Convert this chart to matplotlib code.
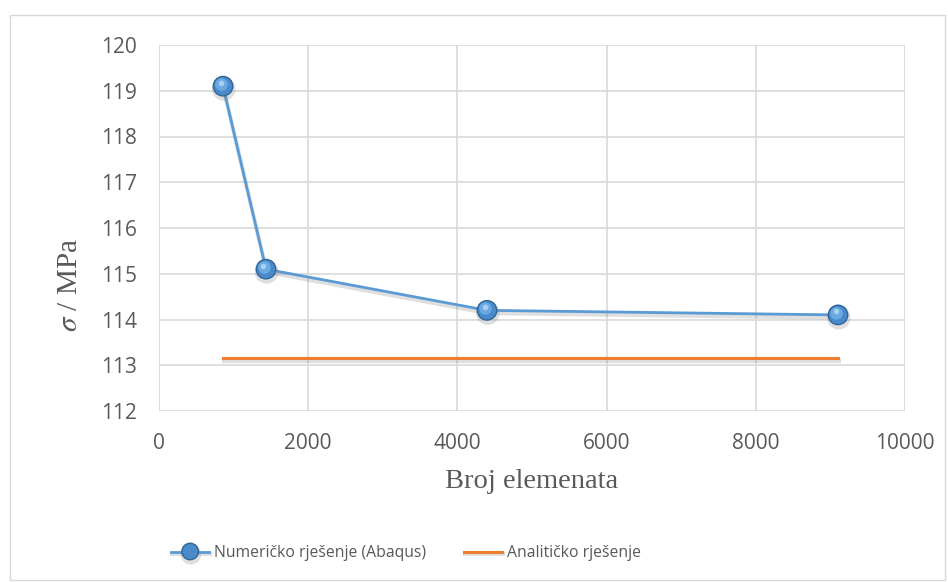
import matplotlib
matplotlib.use("Agg")
from matplotlib import pyplot as plt
from matplotlib import patheffects as pe
from matplotlib import transforms
from matplotlib.patches import Rectangle

# data
broj_elemenata = [858, 1434, 4397, 9102]
sigma_abaqus = [119.1, 115.1, 114.2, 114.1]
sigma_analiticko = 113.16
x_ticks = [0, 2000, 4000, 6000, 8000, 10000]
y_ticks = [112, 113, 114, 115, 116, 117, 118, 119, 120]

blue = "#5B9BD5"
orange = "#ED7D31"
grid = "#D9D9D9"
txt = "#595959"
plt.rcParams["mathtext.fontset"] = "stix"

fig = plt.figure(figsize=(9.48, 5.82), dpi=100)
fig.patches.append(Rectangle((10 / 948, 2 / 582), 935 / 948, 565 / 582, transform=fig.transFigure,
                             fill=False, edgecolor="#D9D9D9", linewidth=1.0))
ax = fig.add_axes([159 / 948, 1 - 411 / 582, 746 / 948, 366 / 582])

shadow = [pe.SimpleLineShadow(offset=(0.5, -2), shadow_color="gray", alpha=0.25, linewidth=3), pe.Normal()]

ax.plot([broj_elemenata[0], broj_elemenata[-1]], [sigma_analiticko, sigma_analiticko],
        color=orange, linewidth=2.2, path_effects=shadow, label="Analitičko rješenje", zorder=3)
ax.plot(broj_elemenata, sigma_abaqus, color=blue, linewidth=2.0, marker="o", markersize=14,
        markerfacecolor="#4A8ACB", markeredgecolor="#2F6699", markeredgewidth=1.0,
        path_effects=shadow, label="Numeričko rješenje (Abaqus)", zorder=4)
# highlight on the spheres, shifted up-left
hl = transforms.offset_copy(ax.transData, fig=fig, x=-1.2, y=1.5, units="points")
ax.plot(broj_elemenata, sigma_abaqus, linestyle="none", marker="o", markersize=9,
        markerfacecolor="#6AAAE4", markeredgecolor="none", transform=hl, zorder=5)
hl2 = transforms.offset_copy(ax.transData, fig=fig, x=-1.8, y=2.6, units="points")
ax.plot(broj_elemenata, sigma_abaqus, linestyle="none", marker="o", markersize=4,
        markerfacecolor="#A9D0F2", markeredgecolor="none", transform=hl2, zorder=6)

ax.set_xlim(0, 10000)
ax.set_ylim(112, 120)
ax.set_xticks(x_ticks)
ax.set_yticks(y_ticks)
ax.grid(True, color=grid, linewidth=1.2)
ax.set_axisbelow(True)
for s in ax.spines.values():
    s.set_visible(False)
ax.tick_params(length=0, labelsize=15, labelcolor=txt, pad=16)
for lab in ax.get_xticklabels() + ax.get_yticklabels():
    lab.set_fontfamily("Open Sans")

ax.set_xlabel("Broj elemenata", fontsize=20.5, fontfamily="Liberation Serif", color=txt)
ax.xaxis.set_label_coords(0.5, -0.158)
ax.set_ylabel(r"$\sigma$ / MPa", fontsize=21, fontfamily="Liberation Serif", color=txt)
ax.yaxis.set_label_coords(-0.102, 0.344)

h, l = ax.get_legend_handles_labels()
leg = fig.legend(h[::-1], l[::-1], loc="center", bbox_to_anchor=(406 / 948, 1 - 553 / 582), ncol=2,
                 frameon=False, prop={"family": "Open Sans", "size": 11.3}, handlelength=2.45,
                 handletextpad=0.3, columnspacing=2.4, markerscale=0.85)
for t in leg.get_texts():
    t.set_color(txt)

fig.savefig("out.png", dpi=100)
